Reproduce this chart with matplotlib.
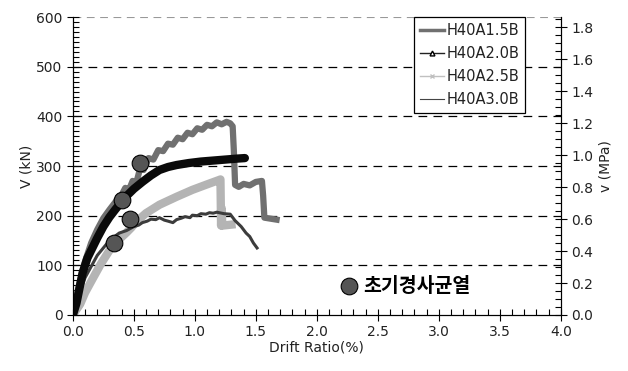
import numpy as np
import matplotlib.pyplot as plt
from matplotlib.lines import Line2D
from matplotlib.ticker import MultipleLocator

# envelope curves, drift ratio (%) vs shear force (kN)
h15_x = [0, 0.05, 0.1, 0.15, 0.2, 0.25, 0.3, 0.35, 0.4, 0.43, 0.46, 0.49, 0.52, 0.55, 0.58,
         0.62, 0.66, 0.70, 0.74, 0.78, 0.82, 0.86, 0.90, 0.94, 0.98, 1.02, 1.06, 1.10, 1.14,
         1.18, 1.22, 1.26, 1.29, 1.31, 1.32, 1.33, 1.36, 1.40, 1.45, 1.50, 1.55, 1.56, 1.57,
         1.62, 1.67]
h15_v = [0, 60, 108, 145, 172, 195, 212, 228, 242, 256, 252, 270, 266, 294, 292,
         316, 313, 332, 330, 345, 343, 357, 354, 367, 364, 376, 373, 383, 380,
         388, 384, 389, 386, 380, 330, 262, 258, 264, 261, 268, 270, 240, 196,
         194, 192]

h20_x = [0, 0.03, 0.08, 0.12, 0.16, 0.2, 0.25, 0.3, 0.35, 0.4, 0.45, 0.5, 0.57, 0.64,
         0.71, 0.78, 0.85, 0.95, 1.05, 1.15, 1.25, 1.35, 1.41]
h20_v = [0, 24, 85, 115, 135, 155, 178, 197, 213, 228, 242, 254, 268, 281,
         292, 298, 302, 306, 309, 311, 313, 315, 316]

h25_x = [0, 0.06, 0.1, 0.16, 0.23, 0.3, 0.37, 0.44, 0.48, 0.52, 0.6, 0.71, 0.85, 0.98,
         1.1, 1.2, 1.21, 1.215, 1.22, 1.225, 1.30]
h25_v = [0, 22, 45, 72, 103, 130, 150, 166, 176, 188, 205, 222, 238, 252,
         263, 272, 273, 180, 215, 180, 182]

h30_x = [0, 0.05, 0.1, 0.2, 0.3, 0.38, 0.44, 0.5, 0.54, 0.57, 0.61, 0.64, 0.68, 0.71,
         0.75, 0.78, 0.82, 0.85, 0.89, 0.92, 0.96, 0.98, 1.02, 1.05, 1.09, 1.12, 1.15,
         1.18, 1.24, 1.29, 1.33, 1.38, 1.42, 1.45, 1.48, 1.51]
h30_v = [0, 40, 75, 120, 150, 165, 170, 178, 181, 186, 189, 193, 192, 196,
         191, 189, 186, 192, 195, 198, 196, 201, 200, 204, 203, 206, 205,
         207, 204, 203, 190, 178, 165, 158, 145, 135]

# first diagonal crack points
crack_x = [0.55, 0.40, 0.47, 0.34]
crack_v = [306, 231, 193, 145]

kn_per_mpa = 322.0

fig = plt.figure(figsize=(6.28, 3.71), dpi=100)
ax = fig.add_axes([0.116, 0.151, 0.777, 0.803])

for yv in [100, 200, 300, 400, 500]:
    ax.axhline(yv, color='black', lw=0.9, ls=(0, (7, 5)), zorder=1)
ax.axhline(600, color='#999999', lw=0.8, ls=(0, (7, 5)), zorder=1)

ax.plot(h25_x, h25_v, color='#b4b4b4', lw=6, solid_joinstyle='round', zorder=2)
ax.plot(h30_x, h30_v, color='#3c3c3c', lw=2.2, zorder=3)
ax.plot(h15_x, h15_v, color='#707070', lw=4.5, solid_joinstyle='round', zorder=3)
ax.plot(h20_x, h20_v, color='#0a0a0a', lw=6, solid_capstyle='round', zorder=4)

ax.plot(crack_x, crack_v, 'o', ms=12, mfc='#555555', mec='black', mew=0.8, zorder=5)

# marker note
ax.plot([2.26], [58], 'o', ms=12, mfc='#555555', mec='black', mew=0.8)
ax.text(2.38, 58, '초기경사균열', family=['Noto Sans CJK KR', 'DejaVu Sans'],
        fontsize=14, fontweight='bold', va='center', ha='left')

ax.set_xlim(0, 4.0)
ax.set_ylim(0, 600)
ax.xaxis.set_major_locator(MultipleLocator(0.5))
ax.xaxis.set_minor_locator(MultipleLocator(0.1))
ax.yaxis.set_major_locator(MultipleLocator(100))
ax.yaxis.set_minor_locator(MultipleLocator(10))
ax.xaxis.set_major_formatter(plt.FuncFormatter(lambda v, p: f'{v:.1f}'))
ax.tick_params(which='major', direction='inout', length=8, width=0.8, labelsize=10,
               labelcolor='#222222')
ax.tick_params(which='minor', direction='in', length=4, width=0.8)
ax.spines['top'].set_visible(False)
ax.set_xlabel('Drift Ratio(%)', fontsize=10, labelpad=1, color='#222222')
ax.set_ylabel('V (kN)', fontsize=10, labelpad=2, color='#222222')

ax2 = ax.twinx()
ax2.set_ylim(0, 600 / kn_per_mpa)
ax2.yaxis.set_major_locator(MultipleLocator(0.2))
ax2.yaxis.set_minor_locator(MultipleLocator(0.05))
ax2.yaxis.set_major_formatter(plt.FuncFormatter(lambda v, p: f'{v:.1f}'))
ax2.tick_params(which='major', direction='inout', length=8, width=0.8, labelsize=10,
                labelcolor='#222222')
ax2.tick_params(which='minor', direction='in', length=4, width=0.8)
ax2.spines['top'].set_visible(False)
ax2.set_ylabel('v (MPa)', fontsize=10, labelpad=4, color='#222222')

handles = [
    Line2D([], [], color='#707070', lw=2.5),
    Line2D([], [], color='#222222', lw=1, marker='^', ms=3.5, mfc='white', mec='black'),
    Line2D([], [], color='#c0c0c0', lw=1, marker='x', ms=3.5),
    Line2D([], [], color='#444444', lw=0.8),
]
labels = ['H40A1.5B', 'H40A2.0B', 'H40A2.5B', 'H40A3.0B']
leg = ax2.legend(handles, labels, loc='upper right', bbox_to_anchor=(0.927, 1.0),
                 borderaxespad=0, fontsize=10.5, handlelength=1.6, handletextpad=0.2,
                 labelspacing=0.55, fancybox=False, framealpha=1, edgecolor='black',
                 borderpad=0.4)
leg.get_frame().set_linewidth(0.9)
for t in leg.get_texts():
    t.set_color('#222222')

fig.savefig('out.png', dpi=100)
